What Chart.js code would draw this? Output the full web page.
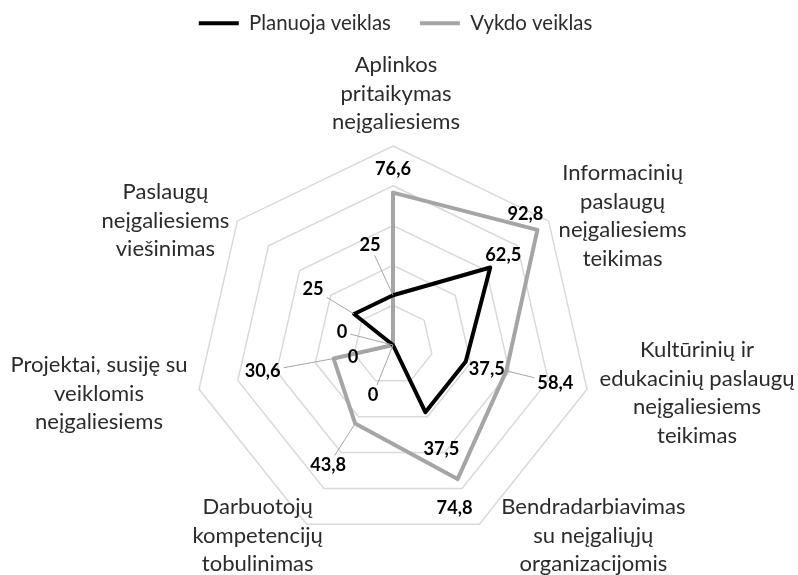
<!DOCTYPE html>
<html>
<head>
<meta charset="utf-8">
<script src="https://cdn.jsdelivr.net/npm/chart.js@4.4.0/dist/chart.umd.min.js"></script>
<style>
  html, body { margin: 0; padding: 0; background: #fff; }
  #wrap { width: 798px; height: 575px; position: relative; }
</style>
</head>
<body>
<div id="wrap"><canvas id="radar"></canvas></div>
<script>
// Duomenys
var categories = [
    ['Aplinkos', 'pritaikymas', 'neįgaliesiems'],
    ['Informacinių', 'paslaugų', 'neįgaliesiems', 'teikimas'],
    ['Kultūrinių ir', 'edukacinių paslaugų', 'neįgaliesiems', 'teikimas'],
    ['Bendradarbiavimas', 'su neįgaliųjų', 'organizacijomis'],
    ['Darbuotojų', 'kompetencijų', 'tobulinimas'],
    ['Projektai, susiję su', 'veiklomis', 'neįgaliesiems'],
    ['Paslaugų', 'neįgaliesiems', 'viešinimas']
];
var planuoja = [25, 62.5, 37.5, 37.5, 0, 0, 25];
var vykdo = [76.6, 92.8, 58.4, 74.8, 43.8, 30.6, 0];
var seriesNames = ['Planuoja veiklas', 'Vykdo veiklas'];

// Išdėstymas (ne duomenys)
var FONT = 'Lato, "Open Sans", sans-serif';
var TEXT_COLOR = '#2b2b2b';
var GRID_COLOR = '#d9d9d9';
var LEADER_COLOR = '#a6a6a6';
// kategorijų pavadinimų poslinkis nuo išorinės viršūnės (pirmos eilutės centras)
var catOffsets = [[3, -81], [74, -48], [110, -39], [114, -17], [-49, -17], [-100, -24], [-72, -29]];
// reikšmių etikečių poslinkiai nuo taško
var valueOffsets = [
    [[-23, -50], [13, -12], [21, 8], [16, 37], [-20, 50], [-40, 12], [-41, -25]],
    [[0, -23], [-12, -16], [49, 12], [-3, 29], [-27, 42], [-71, 13], [-51, -13]]
];
// kurios etiketės turi vedamąsias linijas
var leaders = [
    [true, false, false, false, true, false, true],
    [false, false, true, false, true, true, true]
];

function fitFont(text, targetWidth, weight) {
    var ctx = document.createElement('canvas').getContext('2d');
    ctx.font = weight + ' 20px ' + FONT;
    return 20 * targetWidth / ctx.measureText(text).width;
}
var catFontSize = fitFont('neįgaliesiems', 128, 'normal');
var valueFontSize = fitFont('76,6', 36, 'bold');
var legendFontSize = fitFont('Planuoja veiklas', 142, 'normal');

function formatValue(v) {
    return v.toLocaleString('lt-LT', { maximumFractionDigits: 1 });
}

// Etikečių piešimas
var labelPlugin = {
    id: 'radarLabels',
    afterDatasetsDraw: function (chart) {
        var ctx = chart.ctx;
        var scale = chart.scales.r;
        ctx.save();

        // kategorijų pavadinimai
        ctx.font = catFontSize + 'px ' + FONT;
        ctx.fillStyle = TEXT_COLOR;
        ctx.textAlign = 'center';
        ctx.textBaseline = 'middle';
        categories.forEach(function (lines, i) {
            var p = scale.getPointPositionForValue(i, scale.max);
            var x = p.x + catOffsets[i][0];
            var y = p.y + catOffsets[i][1];
            lines.forEach(function (line, k) {
                ctx.fillText(line, x, y + k * 28.5);
            });
        });

        // reikšmės
        ctx.font = 'bold ' + valueFontSize + 'px ' + FONT;
        chart.data.datasets.forEach(function (ds, di) {
            var meta = chart.getDatasetMeta(di);
            meta.data.forEach(function (pt, j) {
                var text = formatValue(ds.data[j]);
                var cx = pt.x + valueOffsets[di][j][0];
                var cy = pt.y + valueOffsets[di][j][1];
                if (leaders[di][j]) {
                    var hw = ctx.measureText(text).width / 2 + 3;
                    var hh = 10;
                    var dx = pt.x - cx, dy = pt.y - cy;
                    var t = Math.min(dx !== 0 ? hw / Math.abs(dx) : 1e9, dy !== 0 ? hh / Math.abs(dy) : 1e9);
                    ctx.beginPath();
                    ctx.strokeStyle = LEADER_COLOR;
                    ctx.lineWidth = 1;
                    ctx.moveTo(cx + dx * t, cy + dy * t);
                    ctx.lineTo(pt.x, pt.y);
                    ctx.stroke();
                }
                ctx.fillStyle = '#000';
                ctx.fillText(text, cx, cy);
            });
        });
        ctx.restore();
    }
};

var chartData = {
    labels: categories,
    datasets: [{
        label: seriesNames[0],
        data: planuoja,
        borderColor: '#000000',
        backgroundColor: '#000000',
        borderWidth: 4,
        borderJoinStyle: 'round',
        fill: false,
        pointRadius: 0,
        pointHoverRadius: 0
    }, {
        label: seriesNames[1],
        data: vykdo,
        borderColor: '#a5a5a5',
        backgroundColor: '#a5a5a5',
        borderWidth: 4,
        borderJoinStyle: 'round',
        fill: false,
        pointRadius: 0,
        pointHoverRadius: 0
    }]
};

var ctx = document.getElementById('radar').getContext('2d');
new Chart(ctx, {
    type: 'radar',
    data: chartData,
    options: {
        responsive: true,
        maintainAspectRatio: false,
        animation: false,
        layout: { padding: { top: -16, right: 7, left: 0, bottom: 0 } },
        plugins: {
            legend: {
                position: 'top',
                labels: {
                    usePointStyle: true,
                    pointStyle: 'line',
                    pointStyleWidth: 40,
                    padding: 29,
                    color: TEXT_COLOR,
                    font: { family: FONT, size: legendFontSize }
                }
            },
            tooltip: { enabled: false }
        },
        scales: {
            r: {
                min: 0,
                max: 100,
                ticks: { display: false, stepSize: 20 },
                pointLabels: { display: false },
                angleLines: { display: false },
                grid: { color: GRID_COLOR, lineWidth: 1.5 },
                afterFit: function (scale) {
                    scale.xCenter = 393;
                    scale.yCenter = 345;
                    scale.drawingArea = 199;
                }
            }
        }
    },
    plugins: [labelPlugin]
});
</script>
</body>
</html>
